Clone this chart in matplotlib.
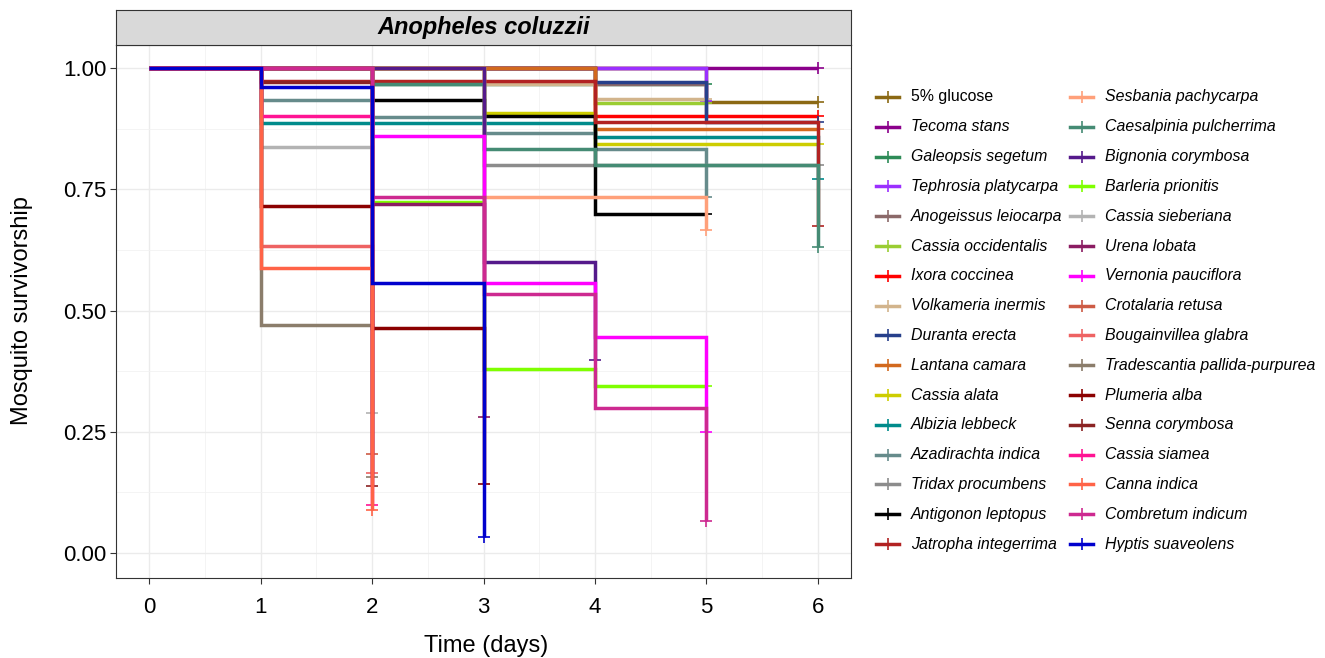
import numpy as np
import matplotlib
matplotlib.use("Agg")
from matplotlib import pyplot as plt
from matplotlib.lines import Line2D

plt.rcParams['font.family'] = ['Liberation Sans', 'DejaVu Sans']

# %%
# species, colours and survival at day 0, 1, ..., last day (last value is censored)
species = ['5% glucose', 'Tecoma stans', 'Galeopsis segetum', 'Tephrosia platycarpa',
           'Anogeissus leiocarpa', 'Cassia occidentalis', 'Ixora coccinea', 'Volkameria inermis',
           'Duranta erecta', 'Lantana camara', 'Cassia alata', 'Albizia lebbeck',
           'Azadirachta indica', 'Tridax procumbens', 'Antigonon leptopus', 'Jatropha integerrima',
           'Sesbania pachycarpa', 'Caesalpinia pulcherrima', 'Bignonia corymbosa', 'Barleria prionitis',
           'Cassia sieberiana', 'Urena lobata', 'Vernonia pauciflora', 'Crotalaria retusa',
           'Bougainvillea glabra', 'Tradescantia pallida-purpurea', 'Plumeria alba', 'Senna corymbosa',
           'Cassia siamea', 'Canna indica', 'Combretum indicum', 'Hyptis suaveolens']

colours = ['#8B6914', '#8B008B', '#2E8B57', '#9B30FF',
           '#8B6969', '#9ACD32', '#FF0000', '#D2B48C',
           '#27408B', '#D2691E', '#CDCD00', '#008B8B',
           '#668B8B', '#8C8C8C', '#000000', '#B22222',
           '#FFA07A', '#458B74', '#551A8B', '#7FFF00',
           '#B3B3B3', '#8B1C62', '#FF00FF', '#CD5B45',
           '#EE6363', '#8B7D6B', '#8B0000', '#8B2323',
           '#FF1493', '#FF6347', '#CD2990', '#0000CD']

survival = [
    [1, 1, 1, 1, 1, 0.93, 0.93],
    [1, 1, 1, 1, 1, 1, 1],
    [1, 1, 0.967, 0.967, 0.967, 0.967],
    [1, 1, 1, 1, 1, 0.932],
    [1, 1, 1, 1, 0.967, 0.90],
    [1, 1, 1, 1, 0.928, 0.928],
    [1, 1, 1, 1, 0.90, 0.90, 0.90],
    [1, 1, 1, 0.967, 0.936, 0.936],
    [1, 1, 1, 1, 0.972, 0.888, 0.888],
    [1, 1, 1, 1, 0.874, 0.874, 0.874],
    [1, 1, 1, 0.907, 0.843, 0.843, 0.843],
    [1, 0.886, 0.886, 0.886, 0.857, 0.857, 0.771],
    [1, 0.934, 0.899, 0.866, 0.833, 0.734],
    [1, 1, 1, 0.80, 0.80, 0.80, 0.80],
    [1, 1, 0.934, 0.90, 0.699, 0.699],
    [1, 0.974, 0.974, 0.974, 0.889, 0.889, 0.674],
    [1, 1, 1, 0.734, 0.734, 0.666],
    [1, 1, 0.967, 0.833, 0.80, 0.80, 0.631],
    [1, 1, 1, 0.60, 0.398],
    [1, 1, 0.724, 0.379, 0.344, 0.344],
    [1, 0.838, 0.289],
    [1, 1, 0.72, 0.28],
    [1, 1, 0.86, 0.557, 0.445, 0.25],
    [1, 1, 0.204],
    [1, 0.633, 0.165],
    [1, 0.47, 0.157],
    [1, 0.715, 0.464, 0.142],
    [1, 0.972, 0.138],
    [1, 0.90, 0.099],
    [1, 0.588, 0.089],
    [1, 1, 0.734, 0.535, 0.30, 0.066],
    [1, 0.961, 0.557, 0.033],
]

# %%
W, H = 1325, 658
fig = plt.figure(figsize=(W/100, H/100), dpi=100)
left, right, top, bottom = 116, 851, 45, 578
ax = fig.add_axes([left/W, 1-bottom/H, (right-left)/W, (bottom-top)/H])

for name, col, s in zip(species, colours, survival):
    t = np.arange(len(s))
    ax.step(t, s, where='post', color=col, lw=2.5, solid_joinstyle='miter', solid_capstyle='butt')
    ax.plot(t[-1], s[-1], marker='+', ms=8, mew=1.2, color=col, ls='none')

ax.set_xlim(-0.296, 6.296)
ax.set_ylim(-0.0515, 1.0474)
ax.set_xticks(range(7))
ax.set_yticks([0, 0.25, 0.5, 0.75, 1.0])
ax.set_yticklabels(['0.00', '0.25', '0.50', '0.75', '1.00'])
ax.set_xticks(np.arange(0.5, 6.5, 1), minor=True)
ax.set_yticks(np.arange(0.125, 1.0, 0.25), minor=True)
ax.grid(True, which='major', color='#EBEBEB', lw=1.0)
ax.grid(True, which='minor', color='#F2F2F2', lw=0.6)
ax.set_axisbelow(True)
ax.tick_params(which='major', labelsize=16, length=4, color='#333333', labelcolor='black')
ax.tick_params(axis='x', pad=10)
ax.tick_params(axis='y', pad=3)
ax.tick_params(which='minor', length=0)
for sp in ax.spines.values():
    sp.set_color('#333333')
    sp.set_linewidth(0.8)

fig.text(22/W, 1-311/H, 'Mosquito survivorship', rotation=90, ha='center', va='center', fontsize=17)
fig.text(486/W, 1-646/H, 'Time (days)', ha='center', va='center', fontsize=17)

# strip
strip = fig.add_axes([left/W, 1-top/H, (right-left)/W, 35/H])
strip.set_facecolor('#D9D9D9')
strip.set_xticks([])
strip.set_yticks([])
for sp in strip.spines.values():
    sp.set_color('#333333')
    sp.set_linewidth(0.8)
strip.text(0.5, 0.5, 'Anopheles coluzzii', ha='center', va='center', fontsize=17,
           fontweight='bold', style='italic', transform=strip.transAxes)

# legend
for i, (name, col) in enumerate(zip(species, colours)):
    c, r = divmod(i, 16)
    y = 1 - (97 + r*29.8)/H
    x0 = (876 + c*194)/W
    x1 = (899 + c*194)/W
    fig.add_artist(Line2D([x0, x1], [y, y], color=col, lw=2.5, transform=fig.transFigure))
    fig.add_artist(Line2D([(x0+x1)/2], [y], color=col, marker='+', ms=8, mew=1.2,
                          ls='none', transform=fig.transFigure))
    fig.text((911 + c*194)/W, y, name, ha='left', va='center', fontsize=11.4,
             style='normal' if name == '5% glucose' else 'italic')

fig.savefig('out.png', dpi=100)
